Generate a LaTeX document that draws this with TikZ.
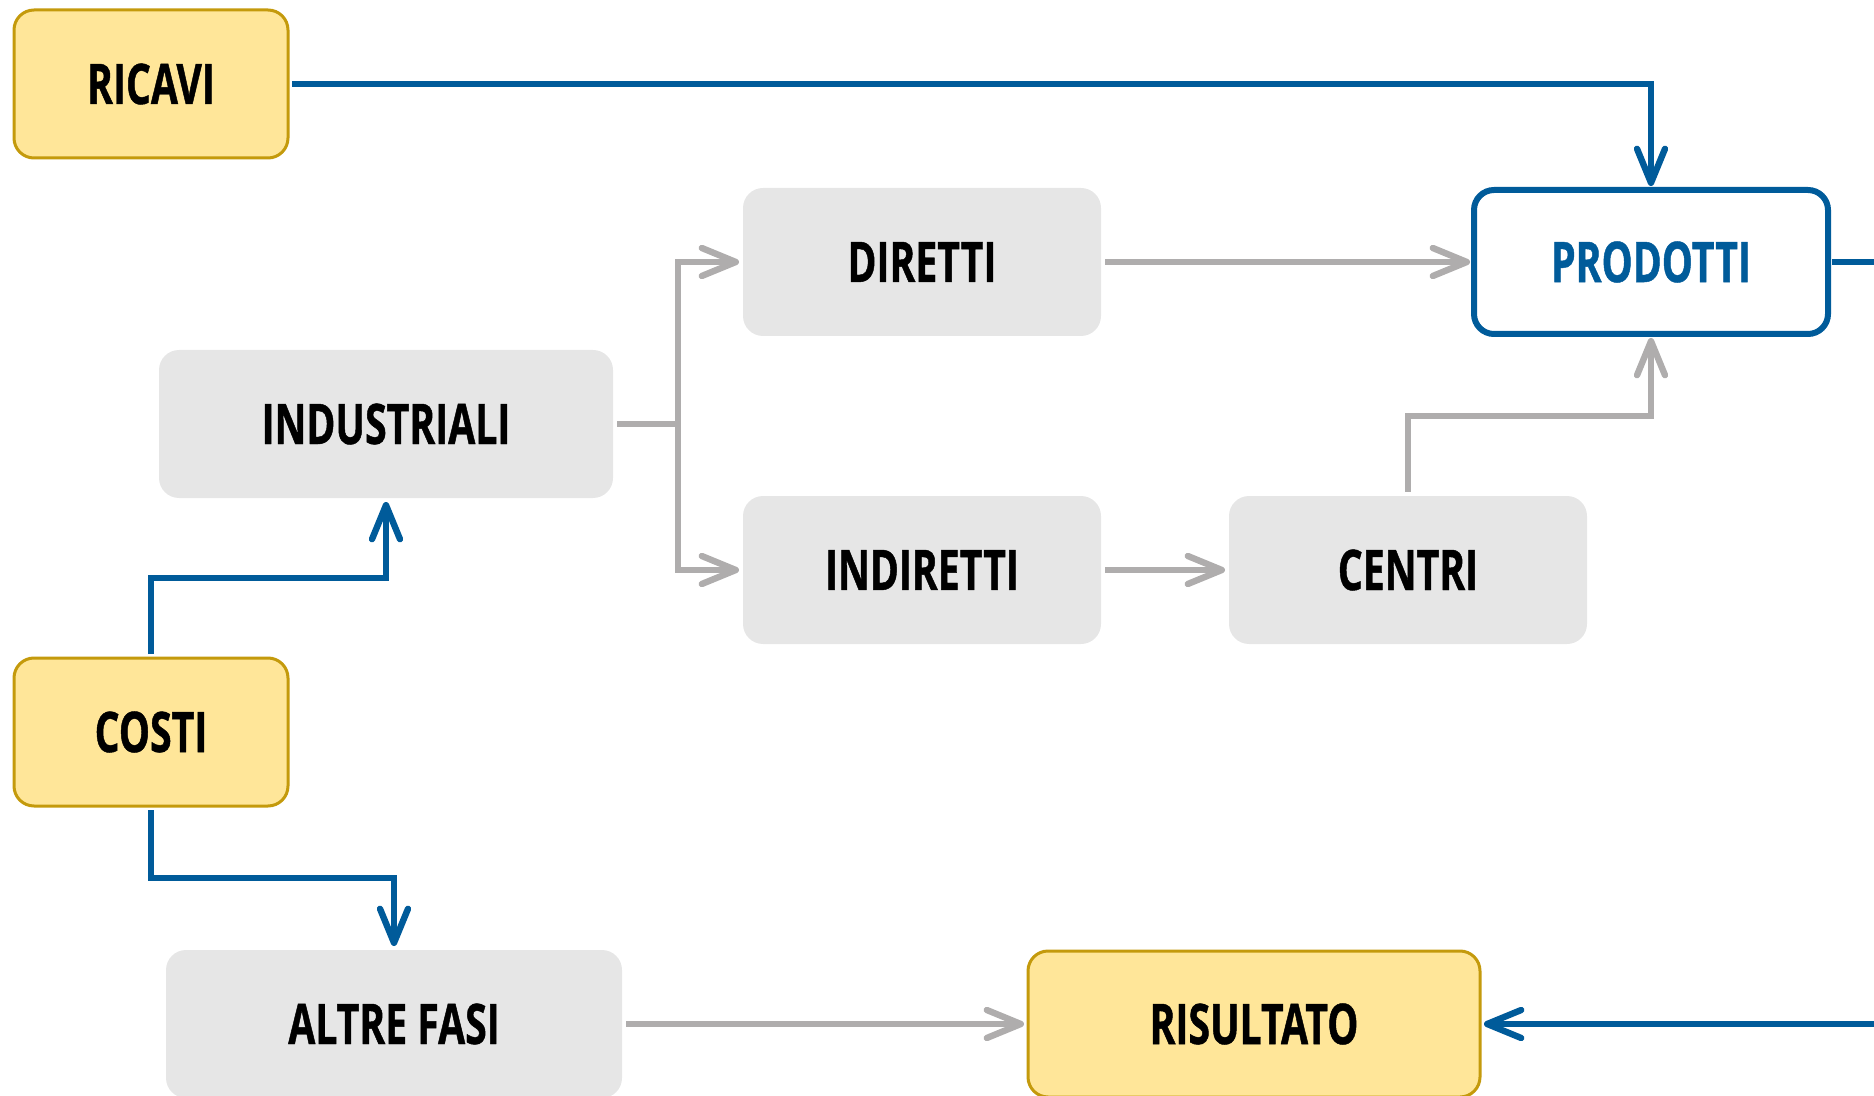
\documentclass[tikz,border=0pt]{standalone}
\usepackage{fontspec}
\setmainfont{Open Sans}[FakeStretch=0.70, BoldFeatures={FakeBold=0.8}]
\usetikzlibrary{arrows.meta}
\definecolor{bluline}{HTML}{005B9A}
\definecolor{greyline}{HTML}{AFADAD}
\definecolor{greyfill}{HTML}{E6E6E6}
\definecolor{yellowfill}{HTML}{FFE699}
\definecolor{yellowline}{HTML}{C49A0C}
\tikzset{
    box/.style={rounded corners=10pt, inner sep=0pt, outer sep=2pt,
        minimum height=74pt, font=\fontsize{28}{32}\selectfont\bfseries},
    greybox/.style={box, fill=greyfill},
    yellowbox/.style={box, fill=yellowfill, draw=yellowline, line width=1.5pt},
    bluebox/.style={box, fill=white, draw=bluline, line width=3pt, text=bluline},
    barb/.style={-{Straight Barb[length=17pt,width=14pt,round]}},
    blueflow/.style={draw=bluline, line width=3.2pt},
    greyflow/.style={draw=greyline, line width=3.2pt}
}
\begin{document}
\begin{tikzpicture}[x=0.5pt,y=-0.5pt]
    \useasboundingbox (0,0) rectangle (1874,1096);
    %% boxes
    \node[yellowbox, minimum width=137pt] (ricavi) at (151,84) {RICAVI};
    \node[yellowbox, minimum width=137pt] (costi) at (151,732) {COSTI};
    \node[greybox, minimum width=227pt] (industriali) at (386,424) {INDUSTRIALI};
    \node[greybox, minimum width=179pt] (diretti) at (922,262) {DIRETTI};
    \node[greybox, minimum width=179pt] (indiretti) at (922,570) {INDIRETTI};
    \node[greybox, minimum width=179pt] (centri) at (1408,570) {CENTRI};
    \node[bluebox, minimum width=177pt, minimum height=72pt] (prodotti) at (1651,262) {PRODOTTI};
    \node[greybox, minimum width=228pt] (altre) at (394,1024) {ALTRE FASI};
    \node[yellowbox, minimum width=226pt, minimum height=73pt] (risultato) at (1254,1024) {RISULTATO};
    %% turning points
    \coordinate (fork) at (678,424);
    \coordinate (cbend) at (0,416);
    \coordinate (upbend) at (0,578);
    \coordinate (downbend) at (0,878);
    \coordinate (outR) at (1874,262);
    \coordinate (inR) at (1874,1024);
    %% blue flows
    \draw[blueflow, barb] (ricavi.east) -| (prodotti.north);
    \draw[blueflow, barb] (costi.north) -- (costi.north |- upbend) -| (industriali.south);
    \draw[blueflow, barb] (costi.south) -- (costi.south |- downbend) -| (altre.north);
    \draw[blueflow] (prodotti.east) -- (outR);
    \draw[blueflow, barb] (inR) -- (risultato.east);
    %% grey flows
    \draw[greyflow] (industriali.east) -- (fork);
    \draw[greyflow, barb] (fork) |- (diretti.west);
    \draw[greyflow, barb] (fork) |- (indiretti.west);
    \draw[greyflow, barb] (diretti.east) -- (prodotti.west);
    \draw[greyflow, barb] (indiretti.east) -- (centri.west);
    \draw[greyflow, barb] (centri.north) -- (centri.north |- cbend) -| (prodotti.south);
    \draw[greyflow, barb] (altre.east) -- (risultato.west);
\end{tikzpicture}
\end{document}
